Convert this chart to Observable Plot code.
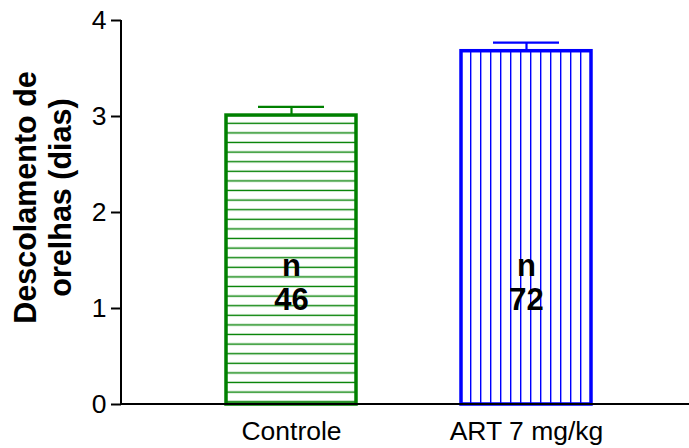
<!DOCTYPE html>
<html>
<head>
<meta charset="utf-8">
<script src="https://cdn.jsdelivr.net/npm/d3@7"></script>
<script src="https://cdn.jsdelivr.net/npm/@observablehq/plot@0.6"></script>
<style>
  html, body { margin: 0; padding: 0; background: #fff; }
</style>
</head>
<body>
<div id="chart"></div>
<script>
const groups = ["Controle", "ART 7 mg/kg"];
const means = [3.01, 3.68];
const sems = [0.09, 0.09];
const nCounts = [46, 72];
const colors = ["#008000", "#0000ff"];
const yTicks = [0, 1, 2, 3, 4];
const yLabel = "Descolamento de\norelhas (dias)";

const data = groups.map((g, i) => ({
  group: g, mean: means[i], sem: sems[i], n: nCounts[i],
  color: colors[i], pattern: `url(#hatch${i})`
}));

const font = "'Liberation Sans', Arial, Helvetica, sans-serif";

const axisLines = (index, scales, values, dims) => {
  const g = d3.create("svg:g");
  g.append("line")
    .attr("x1", dims.marginLeft).attr("x2", dims.marginLeft)
    .attr("y1", dims.marginTop).attr("y2", dims.height - dims.marginBottom)
    .attr("stroke", "#000").attr("stroke-width", 2);
  g.append("line")
    .attr("x1", dims.marginLeft).attr("x2", dims.width - dims.marginRight)
    .attr("y1", dims.height - dims.marginBottom).attr("y2", dims.height - dims.marginBottom)
    .attr("stroke", "#000").attr("stroke-width", 2);
  return g.node();
};

const chart = Plot.plot({
  width: 689,
  height: 448,
  marginLeft: 121,
  marginRight: 0,
  marginTop: 20,
  marginBottom: 44,
  style: { fontFamily: font, fontSize: "26.5px", color: "#000", background: "#fff" },
  x: { domain: groups, paddingInner: 0.445, paddingOuter: 0.426, align: 0.517, label: null },
  y: { domain: [0, 4], label: null },
  color: { type: "identity" },
  marks: [
    Plot.barY(data, {
      x: "group", y: "mean", fill: "pattern", stroke: "color", strokeWidth: 3.5
    }),
    Plot.ruleX(data, {
      x: "group", y1: "mean", y2: d => d.mean + d.sem, stroke: "color", strokeWidth: 2.2
    }),
    Plot.tickY(data, {
      x: "group", y: d => d.mean + d.sem, stroke: "color", strokeWidth: 2.2,
      insetLeft: 32, insetRight: 32
    }),
    Plot.text(data, {
      x: "group", frameAnchor: "middle", dy: 70,
      text: d => "n\n" + d.n, fontSize: 31, fontWeight: "bold",
      lineHeight: 1.1, fill: "#000"
    }),
    Plot.axisY({ ticks: yTicks, tickSize: 10, tickPadding: 5, tickFormat: d3.format("d"), strokeWidth: 2, label: null }),
    Plot.axisX({ tickSize: 0, tickPadding: 17, label: null }),
    axisLines,
    Plot.text([yLabel], {
      text: d => d, frameAnchor: "left", textAnchor: "middle", lineAnchor: "middle",
      dx: -79, dy: -15, rotate: -90,
      fontSize: 30.5, fontWeight: "bold", lineHeight: 1.15, fill: "#000"
    })
  ]
});

const svg = d3.select(chart);
const defs = svg.insert("defs", ":first-child");
const p0 = defs.append("pattern").attr("id", "hatch0")
  .attr("patternUnits", "userSpaceOnUse").attr("width", 20).attr("height", 9.6);
p0.append("rect").attr("width", 20).attr("height", 9.6).attr("fill", "#fff");
p0.append("line").attr("x1", 0).attr("x2", 20).attr("y1", 8.1).attr("y2", 8.1)
  .attr("stroke", colors[0]).attr("stroke-width", 1.4);
const p1 = defs.append("pattern").attr("id", "hatch1")
  .attr("patternUnits", "userSpaceOnUse").attr("width", 10).attr("height", 20);
p1.append("rect").attr("width", 10).attr("height", 20).attr("fill", "#fff");
p1.append("line").attr("x1", 0.7).attr("x2", 0.7).attr("y1", 0).attr("y2", 20)
  .attr("stroke", colors[1]).attr("stroke-width", 1.4);

document.getElementById("chart").appendChild(chart);
</script>
</body>
</html>
